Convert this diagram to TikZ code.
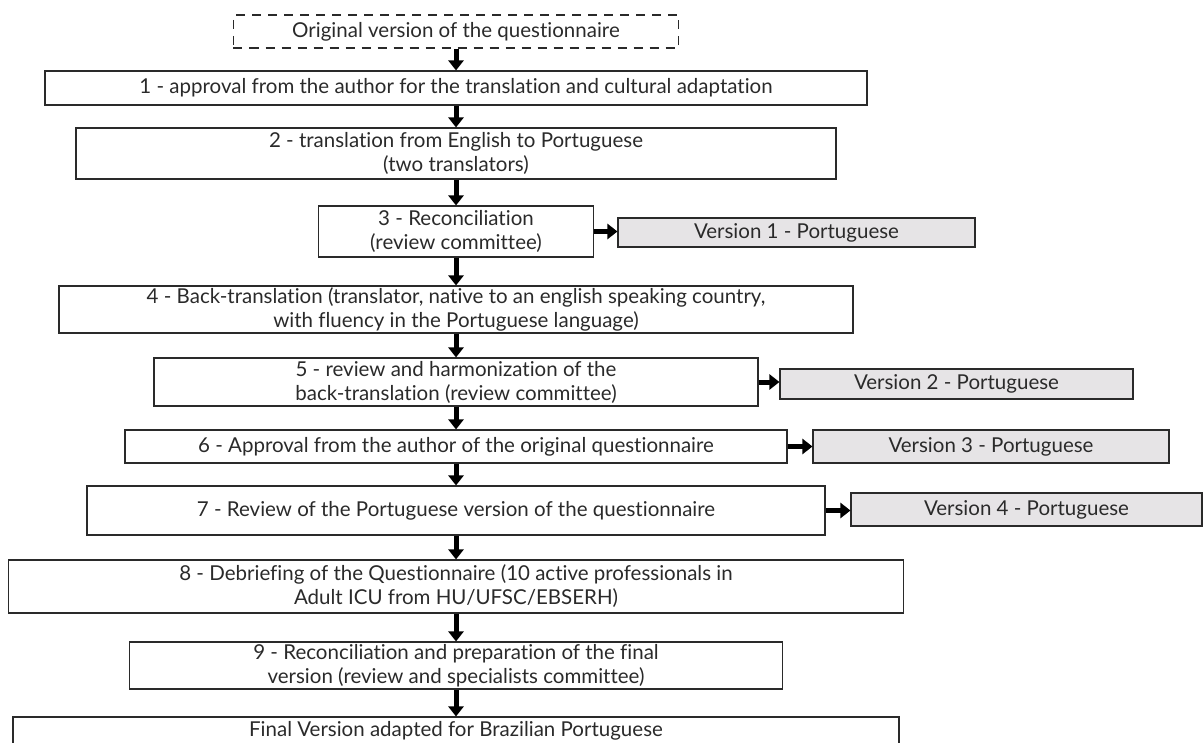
\documentclass[tikz,border=0pt]{standalone}
\usepackage{fontspec}
\setmainfont{Lato}[Ligatures=NoCommon]
\usetikzlibrary{arrows.meta}
\definecolor{boxgray}{HTML}{E6E4E6}
\definecolor{inkgray}{HTML}{2A2A2A}
\tikzset{
  stepbox/.style={draw=inkgray, line width=1.1bp, inner sep=0pt, align=center,
    text=inkgray, font=\fontsize{20.5bp}{24bp}\selectfont},
  verbox/.style={stepbox, fill=boxgray},
  startbox/.style={stepbox, dashed, dash pattern=on 9bp off 7bp},
  flow/.style={line width=5bp, -{Triangle[width=15bp,length=10bp]}}
}
\begin{document}
\begin{tikzpicture}[x=1bp,y=-1bp]
  \useasboundingbox (0,0) rectangle (1203,743);
  % main column
  \node[startbox, minimum width=445bp, minimum height=33bp] (orig) at (456,31.5) {Original version of the questionnaire};
  \node[stepbox, minimum width=822bp, minimum height=34bp] (s1) at (456,88) {1 - approval from the author for the translation and cultural adaptation};
  \node[stepbox, minimum width=760bp, minimum height=51bp] (s2) at (456,153.5) {2 - translation from English to Portuguese\\(two translators)};
  \node[stepbox, minimum width=275bp, minimum height=51bp] (s3) at (456,231.5) {3 - Reconciliation\\(review committee)};
  \node[stepbox, minimum width=794bp, minimum height=47bp] (s4) at (456,309.5) {4 - Back-translation (translator, native to an english speaking country,\\with fluency in the Portuguese language)};
  \node[stepbox, minimum width=604bp, minimum height=48bp] (s5) at (456,382) {5 - review and harmonization of the\\back-translation (review committee)};
  \node[stepbox, minimum width=662bp, minimum height=33bp] (s6) at (456,446.5) {6 - Approval from the author of the original questionnaire};
  \node[stepbox, minimum width=738bp, minimum height=49bp] (s7) at (456,510.5) {7 - Review of the Portuguese version of the questionnaire};
  \node[stepbox, minimum width=895bp, minimum height=53bp] (s8) at (456,586.5) {8 - Debriefing of the Questionnaire (10 active professionals in\\Adult ICU from HU/UFSC/EBSERH)};
  \node[stepbox, minimum width=653bp, minimum height=47bp] (s9) at (456,665.5) {9 - Reconciliation and preparation of the final\\version (review and specialists committee)};
  \node[stepbox, minimum width=886bp, minimum height=28bp] (final) at (456,731) {Final Version adapted for Brazilian Portuguese};
  % versions
  \node[verbox, minimum width=357bp, minimum height=29bp] (v1) at (796.5,232.5) {Version 1 - Portuguese};
  \node[verbox, minimum width=353bp, minimum height=30bp] (v2) at (956.5,384) {Version 2 - Portuguese};
  \node[verbox, minimum width=356bp, minimum height=33bp] (v3) at (991,446.5) {Version 3 - Portuguese};
  \node[verbox, minimum width=351bp, minimum height=33bp] (v4) at (1026.5,509.5) {Version 4 - Portuguese};
  % arrows
  \draw[flow] (orig) -- (s1);
  \draw[flow] (s1) -- (s2);
  \draw[flow] (s2) -- (s3);
  \draw[flow] (s3) -- (s4);
  \draw[flow] (s4) -- (s5);
  \draw[flow] (s5) -- (s6);
  \draw[flow] (s6) -- (s7);
  \draw[flow] (s7) -- (s8);
  \draw[flow] (s8) -- (s9);
  \draw[flow] (s9) -- (final);
  \draw[flow] (s3.east) -- (s3.east -| v1.west);
  \draw[flow] (s5.east) -- (s5.east -| v2.west);
  \draw[flow] (s6.east) -- (s6.east -| v3.west);
  \draw[flow] (s7.east) -- (s7.east -| v4.west);
\end{tikzpicture}
\end{document}
